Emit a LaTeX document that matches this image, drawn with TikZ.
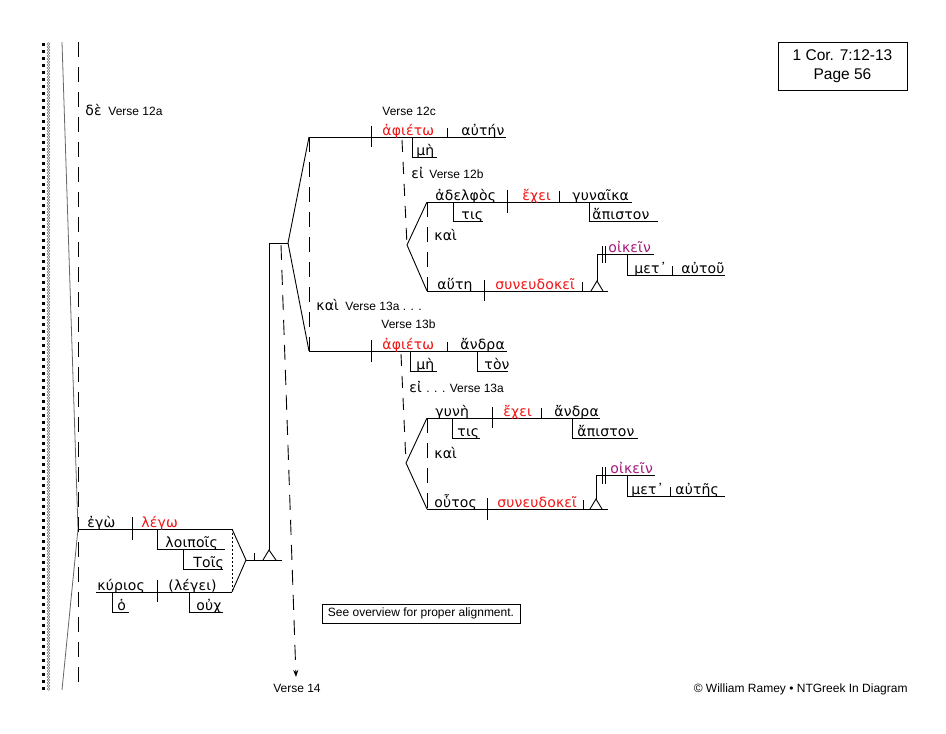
\documentclass[tikz,border=0pt]{standalone}
\usepackage{fontspec}
\setmainfont{Liberation Sans}
\newfontfamily\gk[LetterSpace=1]{DejaVu Sans}
\usetikzlibrary{arrows.meta}
\definecolor{vred}{RGB}{240,20,20}
\definecolor{vpur}{RGB}{165,20,120}
\begin{document}
\begin{tikzpicture}[x=1pt,y=-1pt,line width=0.9pt,
  gw/.style={anchor=base west,inner sep=0pt,yshift=-1.2pt,font=\gk\fontsize{14}{14}\selectfont},
  vb/.style={gw,text=vred},
  inf/.style={gw,text=vpur},
  lab/.style={anchor=base west,inner sep=0pt,font=\fontsize{12}{12}\selectfont},
  dsh/.style={dash pattern=on 15pt off 10pt},
  dshs/.style={dash pattern=on 12pt off 10pt},
  dots/.style={dash pattern=on 2pt off 2pt,line width=0.7pt},
  boxed/.style={draw,line width=0.8pt,inner sep=0pt}]
\useasboundingbox (0,0) rectangle (946,734);
% left border
\foreach \i in {0,...,92} \fill (42,{43+\i*7}) rectangle ++(2.6,2.6);
\foreach \i in {0,...,215} \draw[line width=0.4pt,black!65] (48.5,{44+\i*3}) circle (1.4);
\draw[black!60,line width=0.8pt] (62,42) -- (78,529) -- (62,690);
\draw[dsh] (78,42) -- (78,690);
\node[gw,yshift=1.2pt] (de) at (85,115) {δὲ};
\node[lab] (v12a) at (108,115) {Verse 12a};
% main clause
\draw (78,529) -- (232,529);
\draw (132,517) -- (132,540);
\draw (157,529) -- (157,549) -- (225,549);
\draw (183,549) -- (183,569) -- (223,569);
\draw (96,592) -- (232,592);
\draw (157,580) -- (157,602);
\draw (112,592) -- (112,612) -- (129,612);
\draw (189,592) -- (189,612) -- (223,612);
\draw[dots] (232,529) -- (232,592);
\draw (232,529) -- (246,560) -- (232,592);
\draw (246,560) -- (282,560);
\draw (254,553) -- (254,560);
\draw (263,560) -- (269,550) -- (276,560);
\draw (269,550) -- (269,243) -- (288,243);
\draw (309,137) -- (288,243) -- (309,351);
\draw[dsh,-{Stealth[length=7pt,width=5pt]}] (281,245) -- (296,677);
\draw[dsh] (309,137) -- (309,351);
\node[gw] (ego) at (87,526) {ἐγὼ};
\node[vb] (lego) at (141,526) {λέγω};
\node[gw] (loipois) at (165,546) {λοιποῖς};
\node[gw] (tois) at (193,566) {Τοῖς};
\node[gw] (kyrios) at (97,589) {κύριος};
\node[gw] (legei) at (168,589) {(λέγει)};
\node[gw] (ho) at (117,609) {ὁ};
\node[gw] (ouch) at (196,609) {οὐχ};
% Verse 12c
\node[lab] (v12c) at (382,115) {Verse 12c};
\draw (309,137) -- (506,137);
\draw (371,126) -- (371,147);
\draw (447,128) -- (447,137);
\draw (412,137) -- (412,157) -- (437,157);
\node[vb] (aphieto1) at (382,134) {ἀφιέτω};
\node[gw] (auten) at (461,134) {αὐτήν};
\node[gw] (me1) at (416,154) {μὴ};
\draw[dshs] (402,140) -- (407,245);
\node[gw,yshift=1.2pt] (ei1) at (411,178) {εἰ};
\node[lab] (v12b) at (429,178) {Verse 12b};
\draw (427,202) -- (407,245) -- (427,291);
\draw[dsh] (427,202) -- (427,291);
\node[gw,yshift=1.2pt] (kai1) at (434,240) {καὶ};
% 12b upper
\draw (427,202) -- (632,202);
\draw (507,190) -- (507,213);
\draw (559,191) -- (559,202);
\draw (453,202) -- (453,221) -- (483,221);
\draw (589,202) -- (589,221) -- (658,221);
\node[gw] (adelphos) at (435,199) {ἀδελφὸς};
\node[vb] (echei1) at (522,199) {ἔχει};
\node[gw] (gynaika) at (572,199) {γυναῖκα};
\node[gw] (tis1) at (461,218) {τις};
\node[gw] (apiston1) at (592,218) {ἄπιστον};
% 12b lower
\draw (427,291) -- (608,291);
\draw (484,280) -- (484,301);
\draw (582,282) -- (582,291);
\draw (591,291) -- (597,281) -- (603,291);
\draw (597,281) -- (597,254) -- (654,254);
\draw[line width=0.8pt] (602,246) -- (602,263) (605,246) -- (605,263);
\draw (627,254) -- (627,275) -- (725,275);
\draw (672,266) -- (672,275);
\node[gw] (haute) at (437,288) {αὕτη};
\node[vb] (syneud1) at (495,288) {συνευδοκεῖ};
\node[inf] (oikein1) at (608,251) {οἰκεῖν};
\node[gw] (met1) at (634,272) {μετ᾽};
\node[gw] (autou) at (681,272) {αὐτοῦ};
% Verse 13
\node[gw,yshift=1.2pt] (kai0) at (316,310) {καὶ};
\node[lab] (v13a0) at (345,310) {Verse 13a . . .};
\node[lab] (v13b) at (381,328) {Verse 13b};
\draw (309,351) -- (507,351);
\draw (371,340) -- (371,362);
\draw (447,342) -- (447,351);
\draw (410,351) -- (410,371) -- (437,371);
\draw (477,351) -- (477,371) -- (508,371);
\node[vb] (aphieto2) at (382,348) {ἀφιέτω};
\node[gw] (andra1) at (460,348) {ἄνδρα};
\node[gw] (me2) at (416,368) {μὴ};
\node[gw] (ton) at (484,368) {τὸν};
\draw[dshs] (401,354) -- (406,463);
\node[gw,yshift=1.2pt] (ei2) at (409,392) {εἰ};
\node[lab] (v13a) at (426,392) {. . . Verse 13a};
\draw (427,418) -- (406,463) -- (427,509);
\draw[dsh] (427,418) -- (427,509);
\node[gw,yshift=1.2pt] (kai2) at (434,458) {καὶ};
% 13a upper
\draw (427,418) -- (600,418);
\draw (492,407) -- (492,428);
\draw (541,408) -- (541,418);
\draw (452,418) -- (452,438) -- (480,438);
\draw (572,418) -- (572,438) -- (638,438);
\node[gw] (gyne) at (435,415) {γυνὴ};
\node[vb] (echei2) at (503,415) {ἔχει};
\node[gw] (andra2) at (554,415) {ἄνδρα};
\node[gw] (tis2) at (457,435) {τις};
\node[gw] (apiston2) at (577,435) {ἄπιστον};
% 13a lower
\draw (427,509) -- (608,509);
\draw (487,498) -- (487,520);
\draw (583,500) -- (583,509);
\draw (590,509) -- (596,499) -- (602,509);
\draw (596,499) -- (596,475) -- (655,475);
\draw[line width=0.8pt] (602,467) -- (602,484) (605,467) -- (605,484);
\draw (627,475) -- (627,496) -- (725,496);
\draw (670,487) -- (670,496);
\node[gw] (houtos) at (434,506) {οὗτος};
\node[vb] (syneud2) at (497,506) {συνευδοκεῖ};
\node[inf] (oikein2) at (610,472) {οἰκεῖν};
\node[gw] (met2) at (631,493) {μετ᾽};
\node[gw] (autes) at (675,493) {αὐτῆς};
% boxes and notes
\node[boxed,minimum width=129pt,minimum height=48pt,align=center,font=\fontsize{15.5}{19}\selectfont] (title) at (842.5,66) {1 Cor. 7:12-13\\Page 56};
\node[boxed,minimum width=198pt,minimum height=19pt,font=\fontsize{12}{12}\selectfont] (see) at (421,613.5) {See overview for proper alignment.};
\node[lab,anchor=base] (v14) at (297,692) {Verse 14};
\node[anchor=base east,inner sep=0pt,font=\fontsize{12}{12}\selectfont] (copy) at (908,692) {© William Ramey • NTGreek In Diagram};
\end{tikzpicture}
\end{document}
